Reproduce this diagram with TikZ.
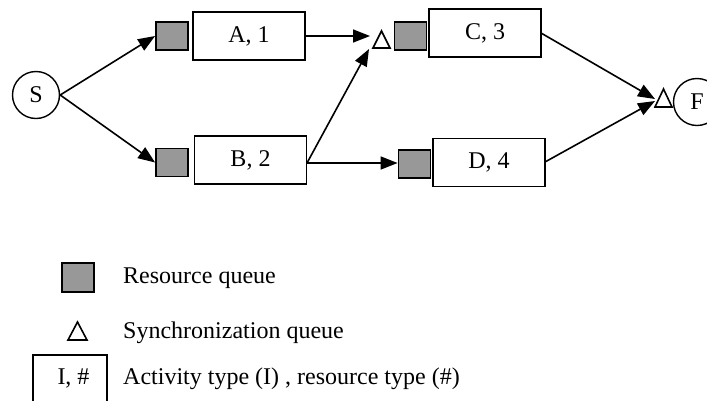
\documentclass[tikz,border=0pt]{standalone}
\usepackage{fontspec}
\setmainfont{Liberation Serif}
\usetikzlibrary{arrows.meta}
\definecolor{qgray}{RGB}{152,152,152}
\begin{document}
\begin{tikzpicture}[x=1pt,y=-1pt,
  every node/.style={font=\fontsize{24}{28}\selectfont},
  actbox/.style={draw, line width=1.8pt, minimum width=112pt, minimum height=48pt, inner sep=0pt},
  rqueue/.style={draw, line width=1.8pt, fill=qgray, minimum width=32pt, minimum height=28pt, inner sep=0pt},
  endpt/.style={draw, circle, line width=1.4pt, minimum size=47pt, inner sep=0pt},
  tri/.style={line width=1.6pt, line join=miter},
  arr/.style={line width=1.6pt, -{Triangle[length=17pt,width=13pt]}},
  legtext/.style={anchor=base west, inner sep=0pt}]
\useasboundingbox (0,0) rectangle (707,400);
\clip (0,0) rectangle (707,400);

% end points
\node[endpt] (S) at (36,95) {S};
\node[endpt] (F) at (697,102) {F};

% resource queues
\node[rqueue] (qA) at (172,36) {};
\node[rqueue] (qB) at (172,162.5) {};
\node[rqueue] (qC) at (410.5,36) {};
\node[rqueue] (qD) at (414.5,164) {};

% activities
\node[actbox] (A) at (249,36) {A, 1};
\node[actbox] (B) at (250.5,160) {B, 2};
\node[actbox] (C) at (485,33) {C, 3};
\node[actbox] (D) at (489,162.5) {D, 4};

% synchronization queues
\draw[tri] (373,48) -- (381.5,31) -- (390,48) -- cycle;
\draw[tri] (655,107) -- (663.5,89) -- (672,107) -- cycle;
\coordinate (sA) at (370,36);
\coordinate (sB) at (369,49);
\coordinate (fC) at (655,99);
\coordinate (fD) at (655,101);
\coordinate (Bout) at (307,163);
\coordinate (Cout) at (541,33);
\coordinate (Dout) at (545,162);

% connectors
\draw[arr] (S.east) -- (qA.west);
\draw[arr] (S.east) -- (qB.west);
\draw[arr] (A.east) -- (sA);
\draw[arr] (Bout) -- (sB);
\draw[arr] (Bout) -- (qD.west |- Bout);
\draw[arr] (Cout) -- (fC);
\draw[arr] (Dout) -- (fD);

% legend
\node[rqueue, minimum height=29pt] (lq) at (78,277.5) {};
\node[legtext] (lqt) at (123,283) {Resource queue};
\draw[tri] (68,340) -- (77.5,322) -- (87,340) -- cycle;
\node[legtext] (lst) at (123,338) {Synchronization queue};
\node[draw, line width=1.8pt, minimum width=74pt, minimum height=70pt, inner sep=0pt] (lb) at (70,390) {};
\node[anchor=base, inner sep=0pt] (lbt) at (73.5,384) {I, \#};
\node[legtext] (lbx) at (123,384) {Activity type (I) , resource type (\#)};
\end{tikzpicture}
\end{document}
